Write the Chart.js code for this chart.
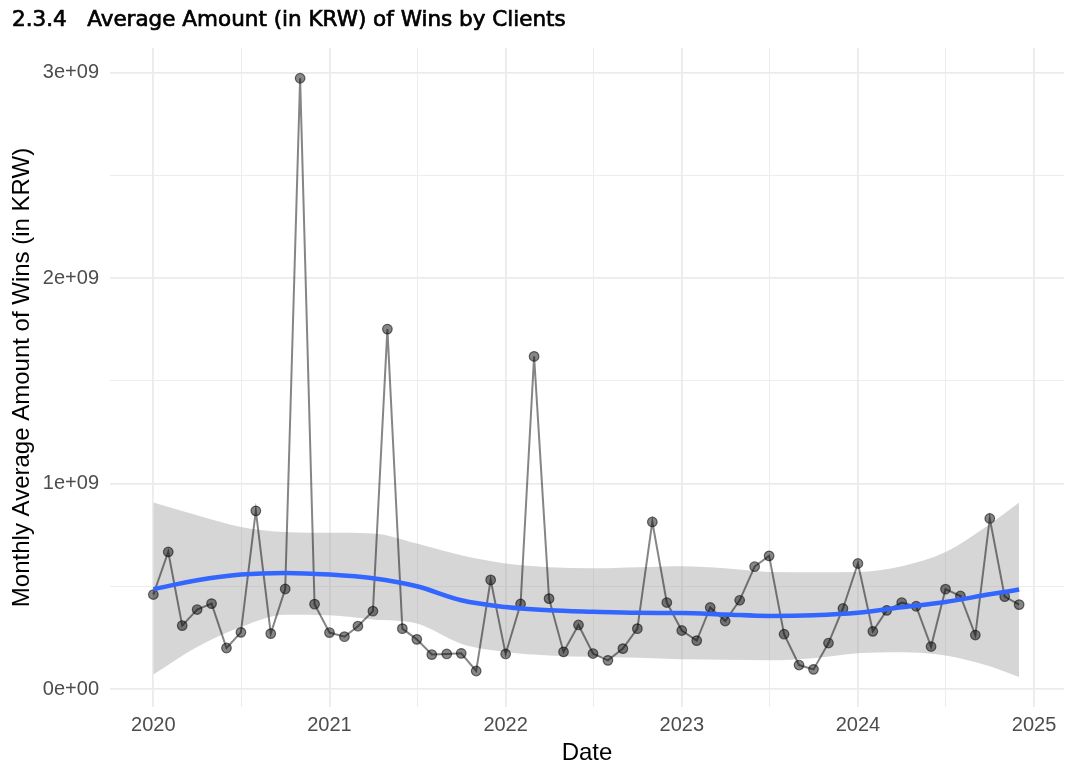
<!DOCTYPE html>
<html>
<head>
<meta charset="utf-8">
<script src="https://cdn.jsdelivr.net/npm/chart.js@4"></script>
<style>
  html, body { margin: 0; padding: 0; background: #ffffff; }
  #wrap { position: relative; width: 1072px; height: 777px; }
  canvas { display: block; }
</style>
</head>
<body>
<div id="wrap"><canvas id="c" width="1072" height="777"></canvas></div>
<script>
// ---- Data ----
const chartTitle = '2.3.4   Average Amount (in KRW) of Wins by Clients';
const months = [
  "2020-01","2020-02","2020-03","2020-04","2020-05","2020-06","2020-07","2020-08","2020-09","2020-10","2020-11","2020-12",
  "2021-01","2021-02","2021-03","2021-04","2021-05","2021-06","2021-07","2021-08","2021-09","2021-10","2021-11","2021-12",
  "2022-01","2022-02","2022-03","2022-04","2022-05","2022-06","2022-07","2022-08","2022-09","2022-10","2022-11","2022-12",
  "2023-01","2023-02","2023-03","2023-04","2023-05","2023-06","2023-07","2023-08","2023-09","2023-10","2023-11","2023-12",
  "2024-01","2024-02","2024-03","2024-04","2024-05","2024-06","2024-07","2024-08","2024-09","2024-10","2024-11","2024-12"
];
const avgWins = [
  4.61e8, 6.68e8, 3.10e8, 3.88e8, 4.17e8, 2.01e8, 2.77e8, 8.68e8, 2.71e8, 4.88e8, 2.972e9, 4.14e8,
  2.76e8, 2.56e8, 3.07e8, 3.80e8, 1.752e9, 2.95e8, 2.43e8, 1.69e8, 1.72e8, 1.75e8, 0.89e8, 5.32e8,
  1.72e8, 4.15e8, 1.619e9, 4.41e8, 1.82e8, 3.13e8, 1.74e8, 1.41e8, 1.98e8, 2.95e8, 8.14e8, 4.22e8,
  2.86e8, 2.37e8, 3.98e8, 3.32e8, 4.33e8, 5.97e8, 6.49e8, 2.68e8, 1.18e8, 0.97e8, 2.25e8, 3.93e8,
  6.12e8, 2.82e8, 3.84e8, 4.22e8, 4.04e8, 2.08e8, 4.87e8, 4.54e8, 2.64e8, 8.31e8, 4.51e8, 4.12e8
];
// LOESS smooth with confidence band (read at selected months)
const smoothMonths = ["2020-01","2020-04","2020-07","2020-10","2021-01","2021-04","2021-07","2021-10",
  "2022-01","2022-04","2022-07","2022-10","2023-01","2023-04","2023-07","2023-10",
  "2024-01","2024-04","2024-07","2024-10","2024-12"];
const smoothFit   = [4.87e8, 5.30e8, 5.58e8, 5.66e8, 5.58e8, 5.40e8, 5.01e8, 4.33e8,
  4.00e8, 3.84e8, 3.77e8, 3.72e8, 3.71e8, 3.64e8, 3.57e8, 3.60e8,
  3.72e8, 3.99e8, 4.25e8, 4.62e8, 4.85e8];
const smoothUpper = [9.09e8, 8.47e8, 7.90e8, 7.65e8, 7.61e8, 7.58e8, 7.09e8, 6.52e8,
  6.12e8, 5.94e8, 5.89e8, 5.94e8, 5.99e8, 5.89e8, 5.71e8, 5.69e8,
  5.71e8, 5.99e8, 6.68e8, 8.03e8, 9.09e8];
const smoothLower = [0.72e8, 2.06e8, 3.03e8, 3.63e8, 3.60e8, 3.40e8, 3.20e8, 2.22e8,
  1.82e8, 1.65e8, 1.58e8, 1.53e8, 1.46e8, 1.44e8, 1.41e8, 1.51e8,
  1.75e8, 1.80e8, 1.65e8, 1.12e8, 0.60e8];
const xTickValues = [2020, 2021, 2022, 2023, 2024, 2025];
const xTickLabels = ["2020", "2021", "2022", "2023", "2024", "2025"];
const yTickValues = [0, 1e9, 2e9, 3e9];
const yTickLabels = ["0e+00", "1e+09", "2e+09", "3e+09"];

// ---- helpers ----
function toDecYear(s) {
  const [y, m] = s.split("-").map(Number);
  const start = Date.UTC(y, 0, 1), end = Date.UTC(y + 1, 0, 1);
  return y + (Date.UTC(y, m - 1, 1) - start) / (end - start);
}
const pts = months.map((m, i) => ({ x: toDecYear(m), y: avgWins[i] }));
const fitPts = smoothMonths.map((m, i) => ({ x: toDecYear(m), y: smoothFit[i] }));
const upPts = smoothMonths.map((m, i) => ({ x: toDecYear(m), y: smoothUpper[i] }));
const loPts = smoothMonths.map((m, i) => ({ x: toDecYear(m), y: smoothLower[i] }));

const GRID = '#ebebeb';
const tickFont = { family: 'Liberation Sans, Arial, sans-serif', size: 20 };
const titleFont = { family: 'Liberation Sans, Arial, sans-serif', size: 24, lineHeight: 1.0 };

// Title drawn as canvas text, slightly emboldened
const titlePlugin = {
  id: 'pageTitle',
  afterDraw(chart) {
    const ctx = chart.ctx;
    ctx.save();
    ctx.font = '21.5px "DejaVu Sans", sans-serif';
    ctx.fillStyle = '#000000';
    ctx.strokeStyle = '#000000';
    ctx.lineWidth = 0.7;
    ctx.textBaseline = 'alphabetic';
    ctx.textAlign = 'left';
    ctx.fillText(chartTitle, 12, 26);
    ctx.strokeText(chartTitle, 12, 26);
    ctx.restore();
  }
};

new Chart(document.getElementById('c'), {
  type: 'line',
  data: {
    datasets: [
      { label: 'fit', data: fitPts, borderColor: '#3366FF', borderWidth: 4.5, pointRadius: 0,
        fill: false, tension: 0.4, cubicInterpolationMode: 'monotone', order: 0 },
      { label: 'avg', data: pts, borderColor: 'rgba(0,0,0,0.48)', borderWidth: 2,
        pointRadius: 4.8, pointBackgroundColor: 'rgba(0,0,0,0.47)', pointBorderColor: 'rgba(0,0,0,0.55)',
        pointBorderWidth: 1.2, tension: 0, fill: false, order: 1 },
      { label: 'upper', data: upPts, borderWidth: 0, borderColor: 'rgba(0,0,0,0)', pointRadius: 0,
        backgroundColor: 'rgba(153,153,153,0.4)', fill: 3, tension: 0.4, cubicInterpolationMode: 'monotone', order: 2 },
      { label: 'lower', data: loPts, borderWidth: 0, borderColor: 'rgba(0,0,0,0)', pointRadius: 0,
        fill: false, tension: 0.4, cubicInterpolationMode: 'monotone', order: 3 }
    ]
  },
  options: {
    responsive: false,
    animation: false,
    devicePixelRatio: 1,
    events: [],
    layout: { padding: { left: 12, right: 8, top: 48, bottom: 8 } },
    plugins: {
      legend: { display: false },
      tooltip: { enabled: false },
      title: { display: false }
    },
    scales: {
      x: {
        type: 'linear', min: 2019.754, max: 2025.17,
        afterBuildTicks: (s) => {
          const t = [];
          for (let i = 0; i < xTickValues.length; i++) {
            t.push({ value: xTickValues[i] });
            if (i < xTickValues.length - 1) t.push({ value: (xTickValues[i] + xTickValues[i + 1]) / 2 });
          }
          s.ticks = t;
        },
        afterFit: (s) => { s.height = 62; },
        ticks: {
          autoSkip: false, maxRotation: 0, padding: 6, color: '#4d4d4d', font: tickFont,
          callback: (v) => { const i = xTickValues.indexOf(v); return i >= 0 ? xTickLabels[i] : ''; }
        },
        grid: {
          drawTicks: false,
          color: GRID,
          lineWidth: (ctx) => (ctx.tick && xTickValues.indexOf(ctx.tick.value) >= 0) ? 1.8 : 0.9
        },
        border: { display: false },
        title: { display: true, text: 'Date', color: '#000000', font: titleFont, padding: { top: 0, bottom: 4 } }
      },
      y: {
        type: 'linear', min: -0.086e9, max: 3.119e9,
        afterBuildTicks: (s) => {
          const t = [];
          for (let i = 0; i < yTickValues.length; i++) {
            t.push({ value: yTickValues[i] });
            if (i < yTickValues.length - 1) t.push({ value: (yTickValues[i] + yTickValues[i + 1]) / 2 });
          }
          s.ticks = t;
        },
        afterFit: (s) => { s.width = 98; },
        ticks: {
          autoSkip: false, padding: 11, color: '#4d4d4d', font: tickFont,
          callback: (v) => { const i = yTickValues.indexOf(v); return i >= 0 ? yTickLabels[i] : ''; }
        },
        grid: {
          drawTicks: false,
          color: GRID,
          lineWidth: (ctx) => (ctx.tick && yTickValues.indexOf(ctx.tick.value) >= 0) ? 1.8 : 0.9
        },
        border: { display: false },
        title: { display: true, text: 'Monthly Average Amount of Wins (in KRW)', color: '#000000', font: titleFont, padding: { top: -2, bottom: 0 } }
      }
    }
  },
  plugins: [titlePlugin]
});
</script>
</body>
</html>
